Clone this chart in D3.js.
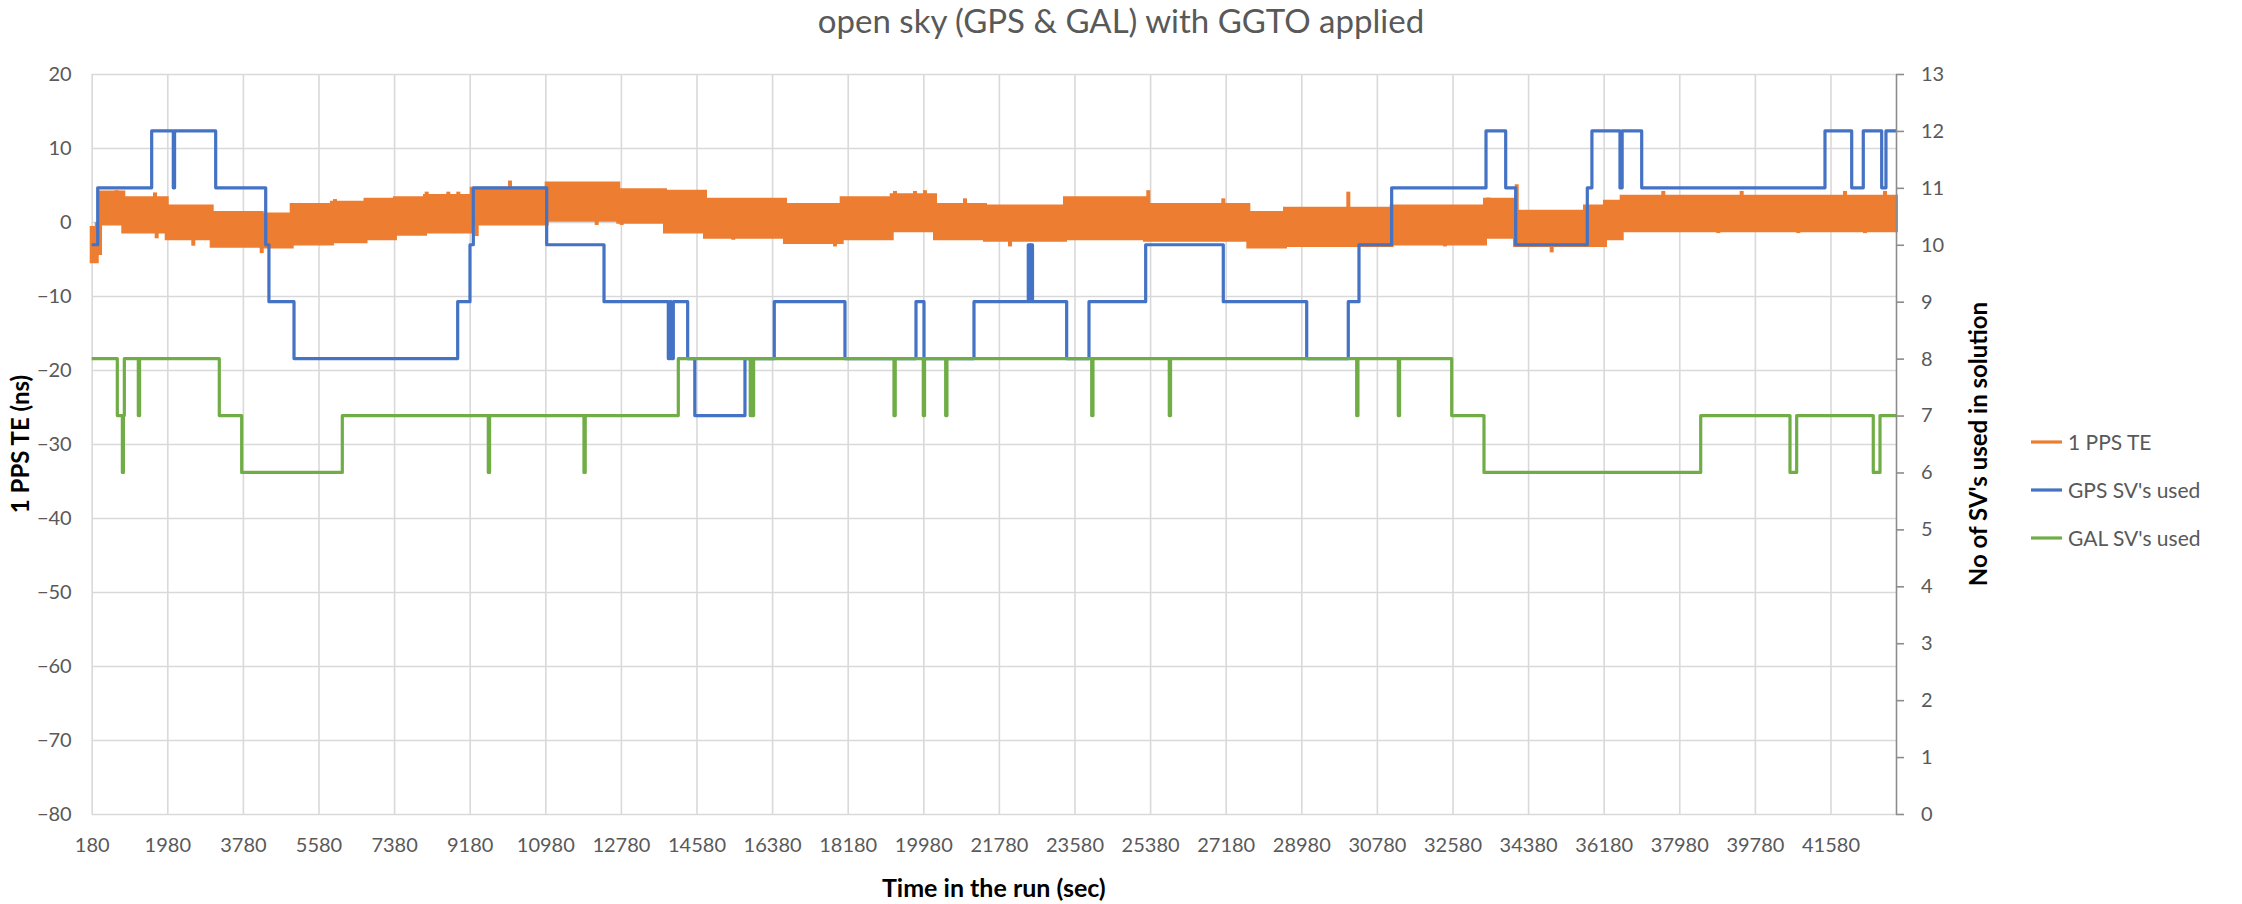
<!DOCTYPE html>
<html>
<head>
<meta charset="utf-8">
<script src="https://cdn.jsdelivr.net/npm/d3@7"></script>
<style>
  body { margin: 0; background: #fff; }
  text { font-family: Lato, "Open Sans", sans-serif; }
</style>
</head>
<body>
<svg id="chart"></svg>
<script>
// ---- data ----
var tStart = 180, tEnd = 43140;

var xTicks = [180, 1980, 3780, 5580, 7380, 9180, 10980, 12780, 14580, 16380, 18180, 19980,
  21780, 23580, 25380, 27180, 28980, 30780, 32580, 34380, 36180, 37980, 39780, 41580];
var yLeftTicks = [20, 10, 0, -10, -20, -30, -40, -50, -60, -70, -80];
var yRightTicks = [0, 1, 2, 3, 4, 5, 6, 7, 8, 9, 10, 11, 12, 13];

// 1 PPS TE: the noisy band, as low/high envelope per stretch of time
var ppsT    = [180, 300, 378, 932, 1966, 3037, 4227, 4942, 5900, 6700, 7400, 8116, 9228, 11013, 12718, 13830,
  14782, 16687, 18037, 19228, 20259, 21450, 23354, 25259, 27719, 28592, 31132, 33354, 34068, 35735, 36211, 36609];
var ppsLow  = [-5.3, -4.2, -0.2, -1.3, -2.2, -3.2, -3.3, -2.9, -2.6, -2.2, -1.6, -1.3, -0.2, 0.3, 0.05, -1.3,
  -2.0, -2.7, -2.2, -1.1, -2.2, -2.4, -2.2, -2.4, -3.3, -3.1, -2.9, -2.0, -3.1, -3.1, -2.2, -1.1];
var ppsHigh = [-0.8, -0.3, 4.0, 3.2, 2.1, 1.2, 1.0, 2.3, 2.6, 3.0, 3.2, 3.5, 4.5, 5.2, 4.3, 4.1,
  3.0, 2.3, 3.2, 3.6, 2.3, 2.1, 3.2, 2.3, 1.2, 1.8, 2.1, 3.0, 1.4, 2.1, 2.75, 3.4];

// isolated excursions sticking out of the band
var spikeT = [775, 1687, 1727, 2599, 4228, 5973, 8156, 8671, 8909, 8830, 10140, 9347, 12204, 12799,
  14742, 15457, 17878, 19306, 19782, 20020, 20337, 20973, 22044, 23830, 25099, 25337, 27123, 28394,
  29068, 30100, 32401, 33432, 34109, 34942, 37599, 39466, 41925, 42878, 38908, 40813, 42401, 36528];
var spikeV = [4.3, 4.0, -2.2, -3.2, -4.2, 3.1, 4.1, 4.1, 4.1, -1.5, 5.6, -1.9, -0.4, -0.4,
  4.3, -2.4, -3.3, 4.2, 4.2, 4.3, -2.4, 3.2, -3.3, -2.3, -2.3, 4.3, 3.2, -3.3,
  -3.3, 4.1, -3.3, 3.3, 5.1, -4.1, 4.2, 4.2, 4.2, 4.2, -1.5, -1.5, -1.5, -2.2];

// GPS SV's used (change points)
var gpsT = [180, 323, 1608, 2123, 2153, 3132, 4323, 4400, 4997, 8894, 9187, 9266, 11013, 12378,
  13909, 13950, 13980, 14028, 14370, 14540, 15734, 16432, 18115, 19806, 19997, 21187,
  22480, 22520, 22540, 22580, 23394, 23925, 25275, 27123, 29109, 30099, 30354, 31132,
  33378, 33847, 34085, 35790, 35900, 36568, 36620, 37085, 41449, 42085, 42361, 42799, 42901];
var gpsN = [10, 11, 12, 11, 12, 11, 10, 9, 8, 9, 10, 11, 10, 9,
  8, 9, 8, 9, 8, 7, 8, 9, 8, 9, 8, 9,
  10, 9, 10, 9, 8, 9, 10, 9, 8, 9, 10, 11,
  12, 11, 10, 11, 12, 11, 12, 11, 12, 11, 12, 11, 12];

// GAL SV's used (change points)
var galT = [180, 790, 910, 935, 957, 1290, 1320, 3218, 3751, 6147, 9623, 9653, 11901, 11931, 14147,
  15860, 15890, 15910, 15940, 19282, 19312, 19980, 20010, 20513, 20543, 23990, 24020, 25837, 25867,
  30299, 30329, 31290, 31320, 32561, 33330, 38490, 40616, 40775, 42599, 42759];
var galN = [8, 7, 6, 7, 8, 7, 8, 7, 6, 7, 6, 7, 6, 7, 8,
  7, 8, 7, 8, 7, 8, 7, 8, 7, 8, 7, 8, 7, 8,
  7, 8, 7, 8, 7, 6, 7, 6, 7, 6, 7];

var seriesNames = ["1 PPS TE", "GPS SV's used", "GAL SV's used"];
var seriesColors = ["#ED7D31", "#4472C4", "#70AD47"];

// ---- chart ----
var width = 2242, height = 904;
var plot = { left: 91.7, right: 1896, top: 74, bottom: 814 };

var svg = d3.select('#chart')
  .attr('width', width)
  .attr('height', height);

svg.append('rect').attr('width', width).attr('height', height).attr('fill', '#fff');

var x = d3.scaleLinear().domain([tStart, tEnd]).range([plot.left, plot.right]);
var yL = d3.scaleLinear().domain([-80, 20]).range([plot.bottom, plot.top]);
var yR = d3.scaleLinear().domain([0, 13]).range([plot.bottom, plot.top]);

var gridColor = '#d9d9d9', labelColor = '#595959';

// vertical grid + x labels
var xAxis = svg.append('g')
  .attr('transform', `translate(0,${plot.bottom})`)
  .call(d3.axisBottom(x).tickValues(xTicks).tickFormat(d3.format('d'))
    .tickSizeInner(-(plot.bottom - plot.top)).tickSizeOuter(0).tickPadding(24));
xAxis.select('.domain').remove();

// horizontal grid + left labels
var yAxis = svg.append('g')
  .attr('transform', `translate(${plot.left},0)`)
  .call(d3.axisLeft(yL).tickValues(yLeftTicks)
    .tickSizeInner(-(plot.right - plot.left)).tickSizeOuter(0).tickPadding(20));
yAxis.select('.domain').remove();

svg.selectAll('.tick line').attr('stroke', gridColor).attr('stroke-width', 1.6);
svg.selectAll('.tick text').attr('fill', labelColor).style('font-size', '20px');

// 1 PPS TE band
var band = ppsT.map((t, i) => ({ t: t, low: ppsLow[i], high: ppsHigh[i] }));
band.push({ t: tEnd, low: ppsLow[ppsLow.length - 1], high: ppsHigh[ppsHigh.length - 1] });

var area = d3.area()
  .x(d => x(d.t))
  .y0(d => yL(d.low))
  .y1(d => yL(d.high))
  .curve(d3.curveStepAfter);

svg.append('path')
  .datum(band)
  .attr('d', area)
  .attr('fill', seriesColors[0])
  .attr('stroke', seriesColors[0])
  .attr('stroke-width', 4);

var spikes = spikeT.map((t, i) => {
  var k = Math.max(0, d3.bisectRight(ppsT, t) - 1);
  var v = spikeV[i];
  return { t: t, v: v, base: v > 0 ? ppsHigh[k] : ppsLow[k] };
});

svg.append('g').selectAll('line')
  .data(spikes)
  .join('line')
  .attr('x1', d => x(d.t)).attr('x2', d => x(d.t))
  .attr('y1', d => yL(d.base)).attr('y2', d => yL(d.v))
  .attr('stroke', seriesColors[0])
  .attr('stroke-width', 4);

// SV count step lines
function stepData(ts, ns) {
  var out = ts.map((t, i) => ({ t: t, n: ns[i] }));
  out.push({ t: tEnd, n: ns[ns.length - 1] });
  return out;
}

var stepLine = d3.line()
  .x(d => x(d.t))
  .y(d => yR(d.n))
  .curve(d3.curveStepAfter);

[[gpsT, gpsN, seriesColors[1]], [galT, galN, seriesColors[2]]].forEach(function(s) {
  svg.append('path')
    .datum(stepData(s[0], s[1]))
    .attr('d', stepLine)
    .attr('fill', 'none')
    .attr('stroke', s[2])
    .attr('stroke-width', 3.2)
    .attr('stroke-linejoin', 'round');
});

// right axis
var yAxisR = svg.append('g')
  .attr('transform', `translate(${plot.right},0)`)
  .call(d3.axisRight(yR).tickValues(yRightTicks).tickSize(8).tickSizeOuter(0).tickPadding(17));
yAxisR.select('.domain').attr('stroke', '#8c8c8c').attr('stroke-width', 1.6);
yAxisR.selectAll('.tick line').attr('stroke', '#8c8c8c').attr('stroke-width', 1.6);
yAxisR.selectAll('.tick text').attr('fill', labelColor).style('font-size', '20px');

// titles
svg.append('text')
  .attr('x', width / 2).attr('y', 33)
  .attr('text-anchor', 'middle')
  .attr('fill', labelColor)
  .style('font-size', '33px')
  .text('open sky (GPS & GAL) with GGTO applied');

svg.append('text')
  .attr('x', (plot.left + plot.right) / 2).attr('y', 897)
  .attr('text-anchor', 'middle')
  .attr('fill', '#000')
  .style('font-size', '25px').style('font-weight', 'bold')
  .text('Time in the run (sec)');

svg.append('text')
  .attr('transform', `translate(29,${(plot.top + plot.bottom) / 2}) rotate(-90)`)
  .attr('text-anchor', 'middle')
  .attr('fill', '#000')
  .style('font-size', '24px').style('font-weight', 'bold')
  .text('1 PPS TE (ns)');

svg.append('text')
  .attr('transform', `translate(1987,${(plot.top + plot.bottom) / 2}) rotate(-90)`)
  .attr('text-anchor', 'middle')
  .attr('fill', '#000')
  .style('font-size', '24px').style('font-weight', 'bold')
  .text("No of SV's used in solution");

// legend
var legend = svg.append('g').selectAll('g')
  .data(seriesNames)
  .join('g')
  .attr('transform', (d, i) => `translate(2031,${442 + i * 48})`);

legend.append('line')
  .attr('x1', 0).attr('x2', 31)
  .attr('stroke', (d, i) => seriesColors[i])
  .attr('stroke-width', 3.2);

legend.append('text')
  .attr('x', 37).attr('dy', '0.36em')
  .attr('fill', labelColor)
  .style('font-size', '21px')
  .text(d => d);
</script>
</body>
</html>
